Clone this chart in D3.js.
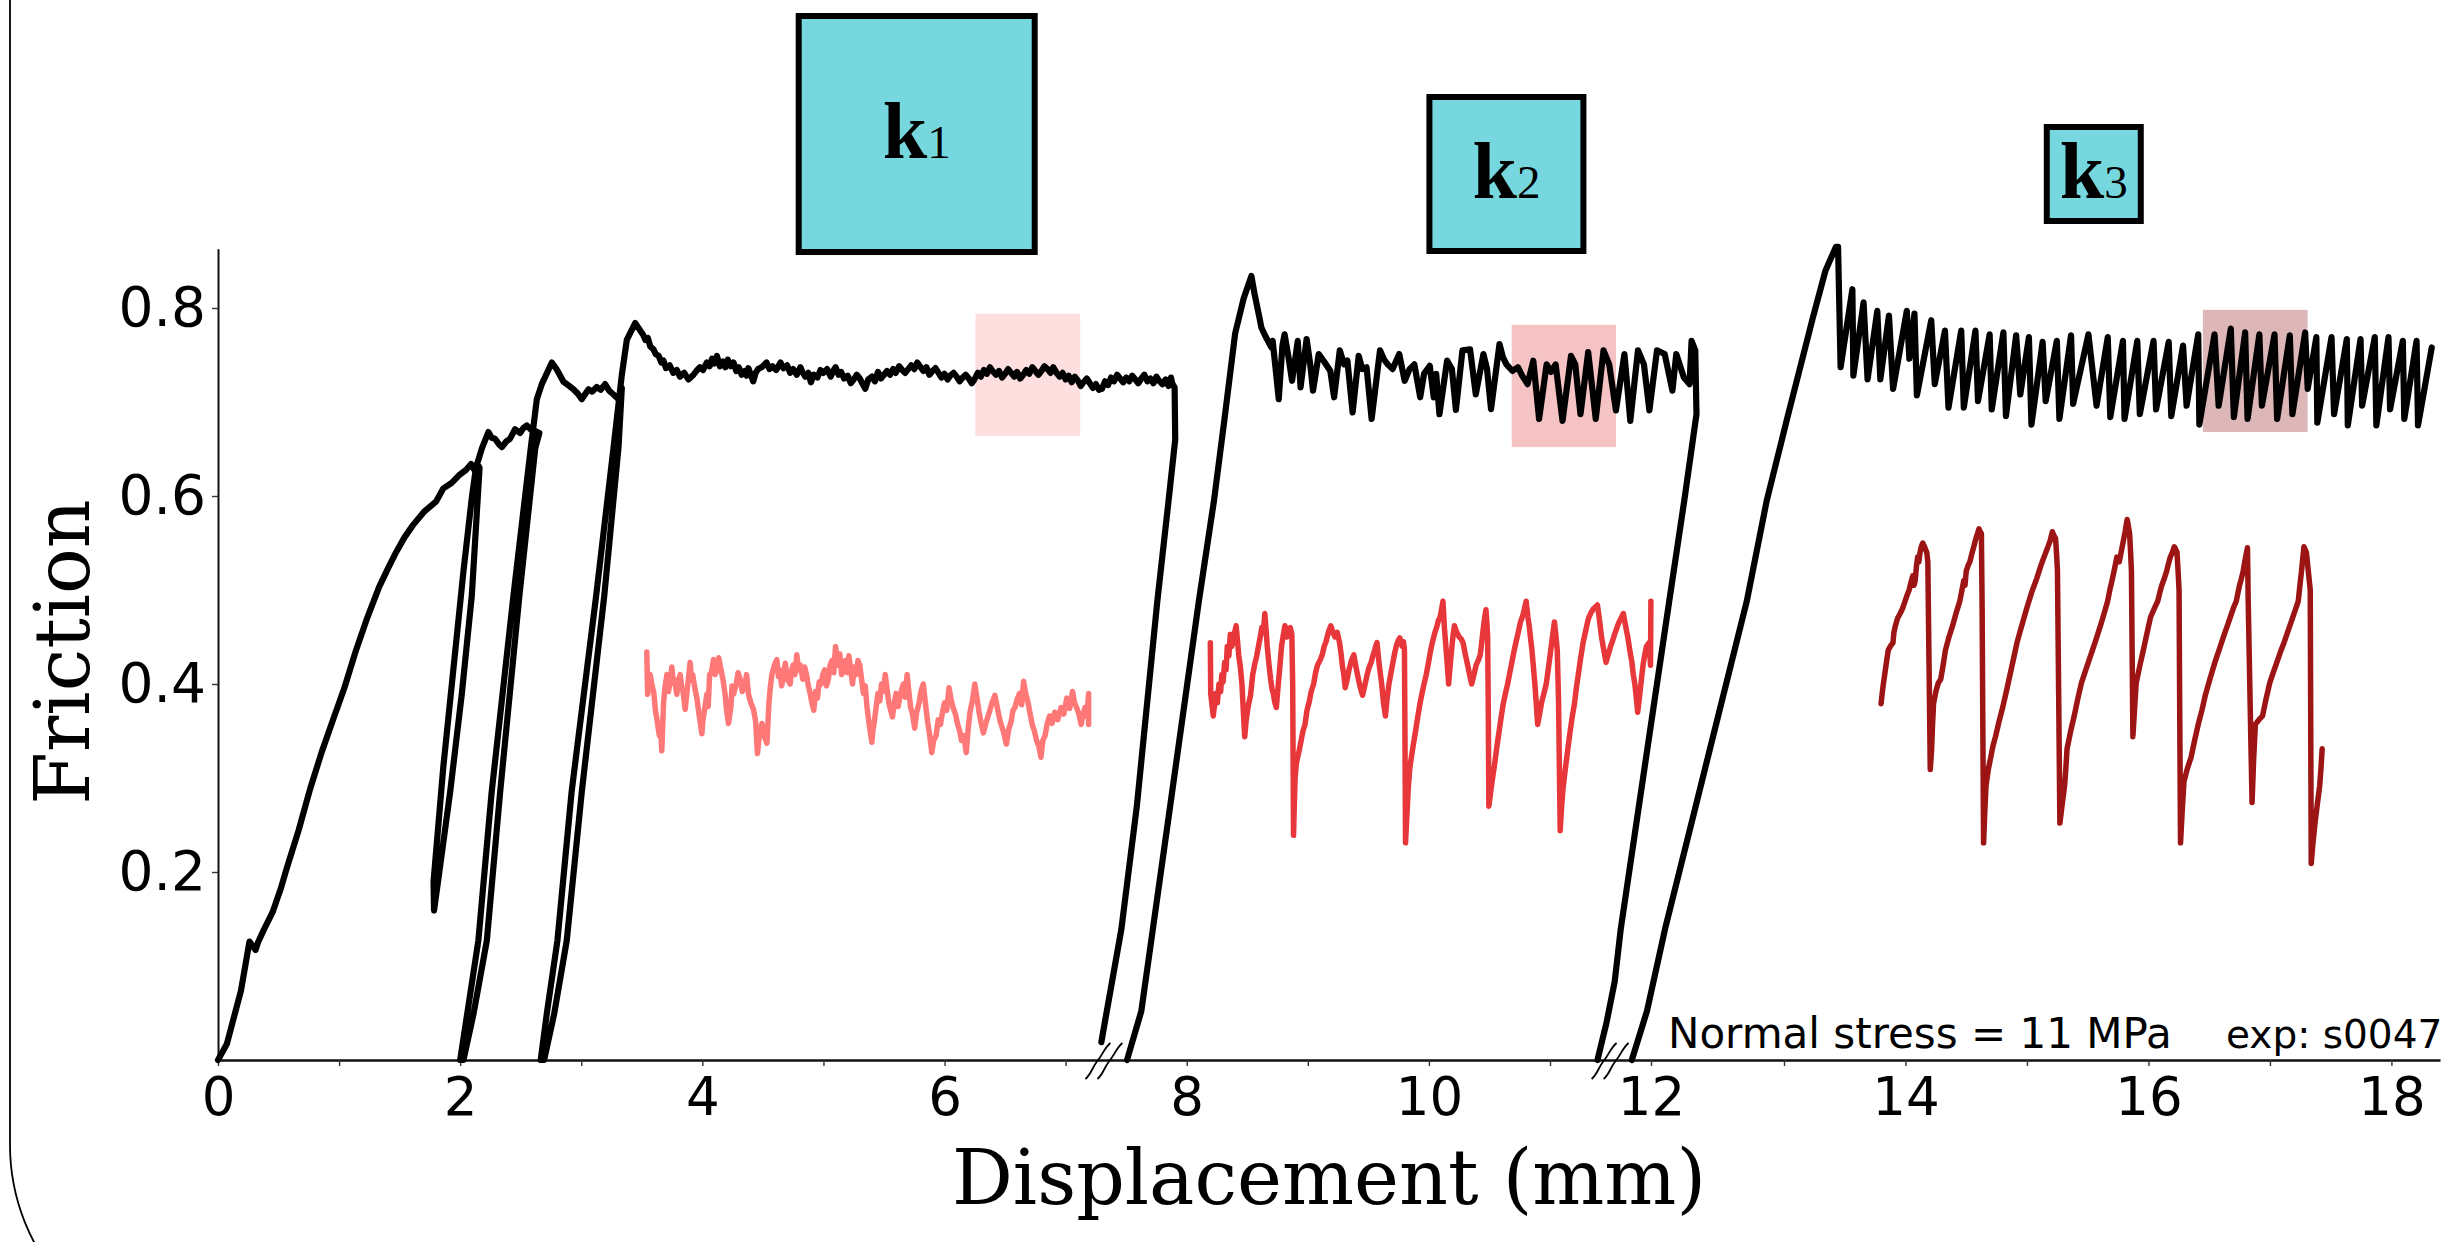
<!DOCTYPE html>
<html>
<head>
<meta charset="utf-8">
<script src="https://cdn.jsdelivr.net/npm/d3@7"></script>
<style>
  html, body { margin: 0; padding: 0; background: #fff; overflow: hidden; }
  svg { display: block; }
</style>
</head>
<body>
<svg id="chart" width="2447" height="1242"></svg>
<script>
// ---------------- data: displacement (mm), friction ----------------

// first run: initial loading plus two unload/reload cycles, steady sliding to ~7.9 mm
const stageOne = [
  [0,0],[0.073,0.017],[0.19,0.074],[0.26,0.126],[0.31,0.117],[0.33,0.125],[0.38,0.139],[0.45,0.157],
  [0.52,0.183],[0.57,0.205],[0.665,0.244],[0.76,0.288],[0.855,0.327],[0.95,0.362],[1.044,0.396],
  [1.14,0.436],[1.234,0.471],[1.33,0.503],[1.40,0.522],[1.47,0.540],[1.54,0.556],[1.61,0.569],
  [1.70,0.583],[1.80,0.594],[1.86,0.608],[1.93,0.614],[1.99,0.622],[2.05,0.628],[2.09,0.634],
  [2.12,0.627],[2.14,0.635],
  [2.16,0.630],[2.096,0.494],[2.013,0.389],[1.917,0.285],[1.834,0.206],[1.784,0.159],
  [1.78,0.19],[1.86,0.311],[1.944,0.416],[2.027,0.52],[2.096,0.598],[2.13,0.63],
  [2.18,0.651],[2.233,0.668],[2.26,0.662],[2.288,0.661],[2.32,0.655],[2.344,0.652],[2.38,0.658],
  [2.412,0.661],[2.453,0.671],[2.495,0.667],[2.52,0.672],[2.55,0.675],[2.59,0.670],[2.62,0.669],[2.654,0.667],
  [2.62,0.651],[2.489,0.494],[2.33,0.285],[2.22,0.127],[2.11,0.049],[2.027,0],
  [2.0,0],[2.15,0.127],[2.26,0.285],[2.44,0.494],[2.583,0.651],[2.633,0.703],[2.674,0.719],[2.757,0.742],
  [2.798,0.7345],[2.853,0.7215],[2.89,0.718],[2.935,0.7136],[2.97,0.709],[3.004,0.703],[3.03,0.708],
  [3.06,0.7136],[3.09,0.711],[3.128,0.716],[3.16,0.713],[3.197,0.719],[3.23,0.712],[3.266,0.708],
  [3.307,0.703],[3.335,0.715],
  [3.307,0.651],[3.19,0.494],[3.004,0.285],[2.88,0.127],[2.776,0.049],[2.693,0],
  [2.665,0],[2.715,0.049],[2.803,0.127],[2.92,0.285],[3.123,0.494],[3.266,0.651],[3.335,0.729],
  [3.376,0.766],[3.445,0.784],
  [3.513,0.771],[3.53,0.766],[3.55,0.768],[3.57,0.759],[3.596,0.756],[3.615,0.751],[3.64,0.749],
  [3.66,0.742],[3.679,0.744],[3.70,0.736],[3.73,0.739],[3.76,0.731],[3.789,0.734],[3.815,0.727],
  [3.85,0.731],[3.885,0.724],[3.927,0.729],[3.95,0.733],[3.98,0.737],[4.005,0.734],[4.037,0.742],
  [4.06,0.738],[4.08,0.746],[4.10,0.741],[4.12,0.749],[4.145,0.738],[4.17,0.743],[4.19,0.737],
  [4.21,0.745],[4.235,0.738],[4.257,0.742],[4.28,0.733],[4.30,0.737],[4.325,0.729],[4.35,0.733],
  [4.365,0.728],[4.38,0.736],[4.40,0.729],[4.42,0.722],[4.44,0.731],[4.46,0.735],[4.49,0.737],
  [4.53,0.742],[4.555,0.735],[4.58,0.738],[4.61,0.734],[4.645,0.742],[4.67,0.736],[4.70,0.739],
  [4.725,0.731],[4.75,0.735],[4.78,0.729],[4.81,0.737],[4.83,0.731],[4.85,0.727],[4.875,0.731],
  [4.896,0.721],[4.92,0.729],[4.95,0.726],[4.975,0.734],[5.0,0.731],[5.03,0.735],[5.06,0.727],
  [5.08,0.733],[5.10,0.737],[5.125,0.729],[5.146,0.732],[5.17,0.725],[5.2,0.728],[5.225,0.72],
  [5.25,0.724],[5.275,0.729],[5.3,0.725],[5.32,0.72],[5.345,0.714],[5.37,0.724],[5.40,0.727],
  [5.425,0.722],[5.45,0.732],[5.475,0.725],[5.50,0.729],[5.525,0.733],[5.55,0.729],[5.575,0.735],
  [5.597,0.731],[5.625,0.738],[5.65,0.734],[5.675,0.731],[5.70,0.735],[5.725,0.739],[5.75,0.735],
  [5.775,0.742],[5.797,0.738],[5.825,0.733],[5.85,0.737],[5.875,0.729],[5.90,0.733],[5.925,0.736],
  [5.95,0.731],[5.975,0.726],[6.0,0.73],[6.025,0.724],[6.047,0.728],[6.075,0.731],[6.10,0.727],
  [6.125,0.722],[6.15,0.726],[6.175,0.729],[6.20,0.725],[6.225,0.72],[6.247,0.724],[6.275,0.731],
  [6.30,0.727],[6.325,0.734],[6.35,0.73],[6.375,0.737],[6.397,0.733],[6.425,0.729],[6.45,0.733],
  [6.475,0.726],[6.50,0.73],[6.525,0.735],[6.55,0.731],[6.575,0.727],[6.598,0.732],[6.625,0.725],
  [6.65,0.729],[6.675,0.734],[6.70,0.73],[6.725,0.737],[6.75,0.733],[6.775,0.729],[6.80,0.733],
  [6.825,0.738],[6.85,0.735],[6.875,0.731],[6.898,0.737],[6.925,0.731],[6.95,0.727],[6.975,0.731],
  [7.0,0.724],[7.025,0.728],[7.05,0.721],[7.075,0.727],[7.10,0.723],[7.125,0.717],[7.148,0.721],
  [7.175,0.725],[7.20,0.72],[7.225,0.715],[7.25,0.719],[7.275,0.713],[7.30,0.714],[7.325,0.722],
  [7.35,0.718],[7.375,0.726],[7.40,0.722],[7.425,0.729],[7.45,0.725],[7.475,0.721],[7.50,0.726],
  [7.525,0.722],[7.55,0.728],[7.575,0.724],[7.60,0.72],[7.625,0.725],[7.65,0.729],[7.675,0.722],
  [7.70,0.725],[7.725,0.72],[7.75,0.727],[7.775,0.722],[7.80,0.719],[7.825,0.724],[7.85,0.717],
  [7.87,0.726],[7.88,0.72],[7.90,0.7155],
  [7.905,0.66],[7.85,0.595],[7.757,0.488],[7.588,0.27],[7.46,0.139],[7.34,0.052],[7.295,0.019]
];

// second run: reload to a peak, irregular slip events, unload
const stageTwo = [
  [7.507,0],[7.625,0.052],[7.72,0.139],[7.863,0.27],[8.1,0.488],[8.225,0.595],[8.31,0.68],
  [8.40,0.773],[8.47,0.81],[8.534,0.834],[8.56,0.815],[8.60,0.79],[8.617,0.779],[8.65,0.77],
  [8.70,0.758],[8.71,0.765],[8.76,0.703],[8.79,0.76],[8.808,0.772],[8.84,0.748],[8.87,0.7226],
  [8.917,0.765],[8.94,0.7155],[8.99,0.767],[9.02,0.74],[9.043,0.712],[9.09,0.751],[9.14,0.742],
  [9.186,0.733],[9.217,0.705],[9.264,0.755],[9.30,0.74],[9.327,0.744],[9.37,0.689],[9.42,0.749],
  [9.45,0.735],[9.485,0.737],[9.527,0.682],[9.596,0.755],[9.63,0.745],[9.66,0.740],[9.70,0.735],
  [9.755,0.751],[9.80,0.7226],[9.84,0.735],[9.88,0.740],[9.928,0.705],[9.96,0.73],[10.007,0.7386],
  [10.04,0.705],[10.06,0.73],[10.087,0.687],[10.15,0.744],[10.19,0.735],[10.223,0.6915],
  [10.277,0.755],[10.34,0.756],[10.387,0.708],[10.45,0.751],[10.48,0.735],[10.513,0.6925],
  [10.583,0.7617],[10.61,0.748],[10.64,0.740],[10.69,0.733],[10.735,0.737],[10.77,0.728],
  [10.815,0.719],[10.862,0.744],[10.91,0.682],[10.972,0.740],[11.01,0.732],[11.056,0.740],
  [11.124,0.68],[11.208,0.749],[11.25,0.74],[11.302,0.687],[11.378,0.753],[11.453,0.682],
  [11.53,0.755],[11.586,0.740],[11.653,0.691],[11.737,0.751],[11.795,0.68],[11.871,0.755],
  [11.93,0.74],[11.984,0.691],[12.045,0.755],[12.103,0.751],[12.161,0.712],[12.19,0.751],
  [12.247,0.726],[12.29,0.719],[12.305,0.765],[12.333,0.755],[12.342,0.687],
  [12.25,0.595],[12.137,0.488],[11.88,0.27],[11.70,0.139],[11.64,0.083],[11.56,0.04],[11.47,0]
];

// third run: reload to the highest peak, then regular stick-slip
const stageThree = [
  [11.81,0],[11.96,0.052],[12.105,0.139],[12.336,0.27],[12.72,0.488],[12.87,0.595],[13.027,0.683],
  [13.238,0.79],[13.342,0.84],[13.427,0.865],[13.445,0.865],
  [13.466,0.737],[13.563,0.820],[13.571,0.728],[13.655,0.806],[13.688,0.724],[13.768,0.797],
  [13.793,0.724],[13.864,0.792],[13.898,0.714],[14.011,0.797],[14.032,0.746],[14.074,0.794],
  [14.094,0.707],[14.212,0.787],[14.241,0.719],[14.325,0.776],[14.354,0.694],[14.459,0.776],
  [14.480,0.694],[14.576,0.776],[14.597,0.701],[14.693,0.772],[14.710,0.692],[14.806,0.774],
  [14.827,0.685],[14.911,0.771],[14.945,0.708],[15.016,0.769],[15.037,0.676],[15.129,0.764],
  [15.154,0.701],[15.246,0.765],[15.267,0.682],[15.363,0.771],[15.380,0.698],[15.506,0.772],
  [15.573,0.696],[15.665,0.769],[15.686,0.684],[15.790,0.765],[15.803,0.682],[15.908,0.765],
  [15.929,0.687],[16.042,0.765],[16.063,0.692],[16.167,0.764],[16.188,0.685],[16.285,0.760],
  [16.314,0.696],[16.410,0.772],[16.419,0.676],[16.544,0.772],[16.578,0.696],[16.678,0.778],
  [16.703,0.684],[16.796,0.774],[16.816,0.682],[16.913,0.772],[16.934,0.696],[17.038,0.772],
  [17.059,0.682],[17.164,0.771],[17.185,0.687],[17.290,0.774],[17.311,0.714],[17.382,0.769],
  [17.390,0.678],[17.507,0.769],[17.528,0.687],[17.633,0.767],[17.641,0.675],[17.746,0.767],
  [17.759,0.696],[17.863,0.769],[17.876,0.675],[17.976,0.769],[17.989,0.692],[18.094,0.765],
  [18.106,0.682],[18.207,0.765],[18.219,0.675],[18.332,0.758]
];

// magnified windows (shifted down), one per run
const detailOne = [
  [3.541,0.434],[3.548,0.389],[3.569,0.41],[3.585,0.398],[3.60,0.39],[3.612,0.372],[3.624,0.363],
  [3.645,0.345],[3.655,0.352],[3.665,0.329],[3.679,0.379],[3.69,0.395],[3.707,0.41],[3.72,0.392],
  [3.73,0.40],[3.748,0.418],[3.76,0.401],[3.77,0.405],[3.789,0.389],[3.80,0.402],[3.817,0.41],
  [3.83,0.396],[3.84,0.392],[3.858,0.373],[3.87,0.388],[3.88,0.40],[3.899,0.423],[3.91,0.404],
  [3.92,0.41],[3.94,0.394],[3.955,0.385],[3.97,0.37],[3.996,0.347],[4.005,0.362],[4.015,0.37],
  [4.037,0.389],[4.048,0.376],[4.06,0.41],[4.075,0.412],[4.092,0.426],[4.105,0.41],[4.12,0.415],
  [4.135,0.428],[4.147,0.420],[4.17,0.405],[4.188,0.389],[4.2,0.372],[4.216,0.358],[4.235,0.375],
  [4.245,0.398],[4.257,0.389],[4.28,0.40],[4.295,0.412],[4.312,0.405],[4.33,0.392],[4.35,0.398],
  [4.365,0.41],[4.381,0.389],[4.40,0.38],[4.422,0.373],[4.44,0.36],[4.455,0.326],[4.47,0.345],
  [4.492,0.358],[4.51,0.345],[4.533,0.337],[4.55,0.38],[4.56,0.395],[4.574,0.41],[4.595,0.42],
  [4.615,0.426],[4.628,0.408],[4.64,0.415],[4.655,0.398],[4.67,0.41],[4.685,0.422],[4.70,0.405],
  [4.725,0.40],[4.737,0.415],[4.75,0.42],[4.765,0.41],[4.78,0.431],[4.795,0.415],[4.808,0.420],
  [4.83,0.405],[4.845,0.418],[4.86,0.41],[4.875,0.398],[4.89,0.39],[4.905,0.38],[4.92,0.372],
  [4.935,0.392],[4.95,0.385],[4.965,0.402],[4.98,0.40],[4.995,0.41],[5.01,0.415],[5.025,0.398],
  [5.04,0.405],[5.055,0.42],[5.07,0.425],[5.085,0.412],[5.10,0.44],[5.11,0.428],[5.12,0.42],
  [5.135,0.432],[5.15,0.41],[5.165,0.418],[5.18,0.425],[5.195,0.412],[5.21,0.43],[5.225,0.415],
  [5.24,0.40],[5.255,0.418],[5.27,0.41],[5.285,0.425],[5.30,0.42],[5.315,0.405],[5.33,0.39],
  [5.345,0.398],[5.36,0.375],[5.38,0.355],[5.40,0.338],[5.41,0.352],[5.42,0.36],[5.435,0.375],
  [5.45,0.39],[5.465,0.382],[5.48,0.40],[5.495,0.392],[5.51,0.41],[5.525,0.395],[5.54,0.38],
  [5.555,0.372],[5.57,0.365],[5.585,0.38],[5.60,0.39],[5.617,0.376],[5.634,0.388],[5.648,0.395],
  [5.66,0.40],[5.675,0.386],[5.691,0.41],[5.705,0.392],[5.72,0.375],[5.735,0.368],[5.753,0.353],
  [5.77,0.37],[5.79,0.38],[5.805,0.392],[5.824,0.40],[5.84,0.382],[5.86,0.36],[5.878,0.345],
  [5.895,0.327],[5.91,0.34],[5.93,0.345],[5.948,0.362],[5.966,0.357],[5.983,0.37],[6.0,0.38],
  [6.018,0.372],[6.037,0.396],[6.052,0.385],[6.07,0.375],[6.09,0.368],[6.108,0.357],[6.125,0.35],
  [6.14,0.34],[6.16,0.345],[6.179,0.327],[6.195,0.352],[6.21,0.37],[6.23,0.382],[6.25,0.40],
  [6.268,0.385],[6.285,0.37],[6.3,0.36],[6.321,0.348],[6.345,0.36],[6.37,0.37],[6.392,0.38],
  [6.416,0.388],[6.44,0.372],[6.46,0.36],[6.485,0.35],[6.511,0.336],[6.53,0.352],[6.55,0.36],
  [6.565,0.372],[6.582,0.375],[6.6,0.384],[6.62,0.39],[6.637,0.378],[6.653,0.403],[6.67,0.39],
  [6.69,0.38],[6.707,0.368],[6.724,0.357],[6.742,0.35],[6.76,0.34],[6.778,0.334],[6.796,0.322],
  [6.812,0.34],[6.83,0.345],[6.848,0.358],[6.867,0.366],[6.888,0.358],[6.91,0.37],[6.935,0.362],
  [6.962,0.375],[6.985,0.368],[7.01,0.385],[7.033,0.374],[7.057,0.392],[7.073,0.38],[7.09,0.375],
  [7.11,0.368],[7.128,0.357],[7.145,0.368],[7.16,0.375],[7.175,0.366],[7.19,0.39],[7.19,0.357]
];

const detailTwo = [
  [8.195,0.444],[8.198,0.39],[8.219,0.366],[8.24,0.39],[8.253,0.38],[8.266,0.40],[8.28,0.392],
  [8.29,0.41],[8.3,0.402],[8.313,0.423],[8.325,0.415],[8.335,0.44],[8.348,0.43],[8.36,0.453],
  [8.372,0.44],[8.385,0.445],[8.396,0.455],[8.408,0.462],[8.42,0.445],[8.43,0.43],[8.443,0.418],
  [8.456,0.40],[8.468,0.37],[8.479,0.344],[8.49,0.36],[8.50,0.37],[8.513,0.38],[8.527,0.388],
  [8.545,0.41],[8.56,0.42],[8.578,0.43],[8.598,0.444],[8.61,0.452],[8.62,0.46],[8.633,0.455],
  [8.645,0.475],[8.655,0.458],[8.665,0.44],[8.68,0.42],[8.693,0.405],[8.704,0.395],[8.715,0.39],
  [8.728,0.38],[8.74,0.375],[8.755,0.398],[8.77,0.42],[8.783,0.44],[8.795,0.45],[8.811,0.462],
  [8.826,0.45],[8.84,0.455],[8.855,0.46],[8.868,0.453],[8.875,0.40],[8.882,0.239],[8.888,0.27],
  [8.895,0.30],[8.905,0.315],[8.916,0.322],[8.93,0.33],[8.945,0.34],[8.96,0.35],[8.977,0.357],
  [8.993,0.372],[9.01,0.38],[9.028,0.392],[9.048,0.40],[9.064,0.412],[9.08,0.42],[9.1,0.425],
  [9.119,0.431],[9.135,0.44],[9.15,0.445],[9.17,0.455],[9.19,0.462],[9.207,0.455],[9.225,0.45],
  [9.243,0.455],[9.262,0.444],[9.275,0.432],[9.285,0.42],[9.297,0.41],[9.309,0.396],[9.325,0.405],
  [9.34,0.415],[9.36,0.425],[9.38,0.431],[9.395,0.42],[9.41,0.41],[9.43,0.398],[9.452,0.388],
  [9.47,0.398],[9.49,0.41],[9.507,0.418],[9.523,0.423],[9.537,0.43],[9.55,0.435],[9.56,0.44],
  [9.571,0.444],[9.59,0.42],[9.61,0.40],[9.625,0.38],[9.641,0.366],[9.655,0.385],[9.67,0.40],
  [9.687,0.412],[9.703,0.423],[9.716,0.432],[9.73,0.44],[9.745,0.446],[9.76,0.449],[9.77,0.443],
  [9.78,0.44],[9.79,0.445],[9.798,0.436],[9.802,0.35],[9.807,0.231],[9.818,0.26],[9.83,0.29],
  [9.842,0.31],[9.855,0.322],[9.872,0.336],[9.89,0.35],[9.908,0.365],[9.926,0.379],[9.943,0.39],
  [9.96,0.40],[9.978,0.41],[9.997,0.423],[10.013,0.435],[10.03,0.445],[10.05,0.455],[10.068,0.462],
  [10.079,0.468],[10.09,0.47],[10.103,0.478],[10.116,0.488],[10.128,0.46],[10.14,0.44],[10.152,0.42],
  [10.163,0.40],[10.177,0.422],[10.19,0.44],[10.2,0.452],[10.211,0.462],[10.23,0.455],[10.25,0.45],
  [10.266,0.448],[10.282,0.444],[10.3,0.432],[10.32,0.42],[10.336,0.41],[10.353,0.40],[10.372,0.41],
  [10.39,0.42],[10.407,0.425],[10.424,0.431],[10.437,0.445],[10.45,0.46],[10.46,0.47],[10.471,0.479],
  [10.479,0.465],[10.485,0.45],[10.49,0.38],[10.495,0.27],[10.505,0.28],[10.515,0.29],[10.528,0.302],
  [10.542,0.314],[10.56,0.332],[10.58,0.35],[10.597,0.365],[10.614,0.379],[10.632,0.39],[10.65,0.40],
  [10.668,0.412],[10.685,0.423],[10.703,0.435],[10.72,0.445],[10.738,0.455],[10.756,0.466],
  [10.768,0.47],[10.78,0.475],[10.792,0.482],[10.803,0.488],[10.817,0.472],[10.83,0.46],[10.84,0.448],
  [10.851,0.436],[10.863,0.418],[10.875,0.40],[10.887,0.378],[10.898,0.357],[10.914,0.368],
  [10.93,0.38],[10.95,0.39],[10.969,0.40],[10.985,0.415],[11.0,0.43],[11.022,0.448],[11.044,0.466],
  [11.058,0.452],[11.072,0.436],[11.078,0.41],[11.085,0.38],[11.093,0.31],[11.101,0.244],
  [11.115,0.27],[11.13,0.29],[11.143,0.302],[11.157,0.314],[11.178,0.332],[11.2,0.35],[11.22,0.365],
  [11.242,0.379],[11.26,0.395],[11.28,0.41],[11.304,0.428],[11.328,0.444],[11.344,0.452],
  [11.36,0.46],[11.372,0.466],[11.385,0.471],[11.407,0.476],[11.43,0.48],[11.45,0.482],[11.47,0.484],
  [11.49,0.468],[11.51,0.45],[11.533,0.436],[11.555,0.423],[11.578,0.432],[11.6,0.44],[11.62,0.446],
  [11.64,0.453],[11.66,0.459],[11.68,0.465],[11.703,0.47],[11.726,0.475],[11.748,0.462],[11.77,0.45],
  [11.79,0.436],[11.811,0.423],[11.825,0.41],[11.84,0.40],[11.855,0.385],[11.868,0.37],[11.885,0.385],
  [11.9,0.40],[11.912,0.412],[11.925,0.423],[11.94,0.432],[11.955,0.44],[11.968,0.442],[11.982,0.444],
  [11.995,0.42],[11.999,0.488]
];

const detailThree = [
  [13.799,0.379],[13.81,0.392],[13.819,0.401],[13.84,0.42],[13.858,0.436],[13.875,0.44],[13.897,0.444],
  [13.905,0.455],[13.917,0.462],[13.935,0.47],[13.956,0.475],[13.975,0.48],[13.996,0.488],
  [14.015,0.495],[14.03,0.50],[14.045,0.508],[14.06,0.515],[14.07,0.505],[14.08,0.51],[14.09,0.525],
  [14.10,0.535],[14.11,0.53],[14.12,0.54],[14.13,0.546],[14.142,0.55],[14.16,0.545],[14.175,0.54],
  [14.184,0.53],[14.194,0.42],[14.204,0.309],[14.215,0.33],[14.222,0.355],[14.231,0.379],
  [14.25,0.392],[14.27,0.401],[14.29,0.405],[14.31,0.42],[14.329,0.436],[14.358,0.45],[14.388,0.462],
  [14.418,0.476],[14.447,0.488],[14.465,0.5],[14.48,0.51],[14.49,0.505],[14.50,0.52],[14.515,0.526],
  [14.53,0.53],[14.545,0.538],[14.56,0.545],[14.57,0.55],[14.58,0.555],[14.593,0.56],[14.605,0.565],
  [14.615,0.562],[14.625,0.56],[14.628,0.52],[14.631,0.48],[14.637,0.35],[14.643,0.231],
  [14.653,0.265],[14.663,0.292],[14.683,0.31],[14.702,0.322],[14.72,0.334],[14.741,0.344],
  [14.77,0.36],[14.8,0.375],[14.83,0.392],[14.859,0.409],[14.888,0.426],[14.918,0.444],[14.948,0.458],
  [14.977,0.471],[14.997,0.48],[15.016,0.488],[15.04,0.498],[15.06,0.505],[15.08,0.512],[15.10,0.52],
  [15.12,0.528],[15.14,0.535],[15.155,0.54],[15.17,0.545],[15.19,0.552],[15.209,0.562],[15.222,0.558],
  [15.235,0.555],[15.243,0.54],[15.251,0.52],[15.261,0.39],[15.271,0.252],[15.29,0.272],[15.31,0.292],
  [15.32,0.31],[15.33,0.331],[15.36,0.35],[15.389,0.366],[15.418,0.384],[15.448,0.401],[15.487,0.416],
  [15.526,0.431],[15.565,0.446],[15.605,0.462],[15.635,0.475],[15.664,0.488],[15.682,0.5],[15.70,0.51],
  [15.72,0.522],[15.74,0.535],[15.76,0.53],[15.775,0.54],[15.79,0.55],[15.808,0.562],[15.825,0.575],
  [15.835,0.568],[15.845,0.56],[15.853,0.54],[15.86,0.52],[15.866,0.43],[15.872,0.344],[15.885,0.372],
  [15.899,0.401],[15.93,0.42],[15.958,0.436],[15.988,0.454],[16.017,0.471],[16.047,0.48],[16.076,0.488],
  [16.093,0.497],[16.11,0.505],[16.13,0.512],[16.15,0.52],[16.165,0.528],[16.18,0.535],[16.197,0.54],
  [16.213,0.546],[16.225,0.543],[16.235,0.54],[16.244,0.52],[16.252,0.50],[16.258,0.36],[16.264,0.231],
  [16.278,0.265],[16.292,0.296],[16.32,0.31],[16.351,0.322],[16.38,0.34],[16.41,0.357],[16.44,0.372],
  [16.468,0.388],[16.508,0.406],[16.547,0.423],[16.586,0.438],[16.625,0.453],[16.655,0.464],
  [16.684,0.475],[16.703,0.482],[16.723,0.488],[16.737,0.497],[16.75,0.505],[16.765,0.512],
  [16.78,0.52],[16.79,0.528],[16.80,0.535],[16.808,0.54],[16.815,0.545],[16.818,0.52],[16.821,0.49],
  [16.837,0.38],[16.853,0.274],[16.866,0.32],[16.88,0.357],[16.91,0.362],[16.939,0.366],[16.968,0.384],
  [16.998,0.401],[17.027,0.412],[17.057,0.423],[17.086,0.434],[17.116,0.444],[17.145,0.455],
  [17.175,0.466],[17.204,0.477],[17.233,0.488],[17.247,0.505],[17.26,0.52],[17.27,0.533],[17.28,0.546],
  [17.29,0.543],[17.30,0.54],[17.316,0.52],[17.332,0.5],[17.336,0.35],[17.34,0.209],[17.355,0.232],
  [17.371,0.252],[17.39,0.272],[17.41,0.292],[17.42,0.31],[17.43,0.331]
];

// extent of each magnified window: [x0, x1, y0, y1]
const windowExtents = [
  [6.255, 7.12, 0.664, 0.794],
  [10.684, 11.654, 0.652, 0.782],
  [16.448, 17.31, 0.668, 0.798]
];

// machine stiffness labels (spring sizes decrease k1 > k2 > k3)
const springLabels = ["1", "2", "3"];
const springCentres = [5.77, 10.64, 15.55];

// axis ticks
const xTickValues = d3.range(0, 19);
const yTickValues = [0.2, 0.4, 0.6, 0.8];
const axisBreaks = [7.32, 11.6];

const seriesColours = ["#ff7878", "#e8373a", "#9c1414"];
const windowFills = ["#fddfdf", "#f5c3c3", "#ddb7b7"];

// ---------------- drawing ----------------
const svg = d3.select("#chart");

// displacement axis is compressed between 11 and 13 mm around the second break
const x = d3.scaleLinear()
  .domain([0, 11, 12, 13, 18.4])
  .range([218, 1550, 1651, 1784, 2440]);
const y = d3.scaleLinear().domain([0, 0.6]).range([1060, 496]);
const yAxisScale = y.copy().domain([0, 0.863]).range([y(0), y(0.863)]);

// rounded outer frame
svg.append("path")
  .attr("d", "M10,-20 L10,1145 A208,208 0 0 0 218,1353 L2600,1353")
  .attr("fill", "none").attr("stroke", "#000").attr("stroke-width", 1.8);

// highlighted windows
svg.append("g").selectAll("rect").data(windowExtents).join("rect")
  .attr("x", d => x(d[0]))
  .attr("y", d => y(d[3]))
  .attr("width", d => x(d[1]) - x(d[0]))
  .attr("height", d => y(d[2]) - y(d[3]))
  .attr("fill", (d, i) => windowFills[i]);

// axes
const gx = svg.append("g")
  .attr("transform", `translate(0,${y(0)})`)
  .call(d3.axisBottom(x)
    .tickValues(xTickValues)
    .tickFormat(d => d % 2 === 0 ? d3.format("d")(d) : "")
    .tickSize(6).tickSizeOuter(0).tickPadding(11));
gx.select(".domain").attr("stroke-width", 2.6).attr("stroke", "#111");
gx.selectAll(".tick line").attr("stroke-width", 1.4).attr("stroke", "#333");
gx.selectAll(".tick text")
  .attr("font-family", "'DejaVu Sans', sans-serif").attr("font-size", 53).attr("fill", "#000");

const gy = svg.append("g")
  .attr("transform", `translate(${x(0)},0)`)
  .call(d3.axisLeft(yAxisScale)
    .tickValues(yTickValues)
    .tickFormat(d3.format(".1f"))
    .tickSize(6).tickSizeOuter(0).tickPadding(6));
gy.select(".domain").attr("stroke-width", 2).attr("stroke", "#111");
gy.selectAll(".tick line").attr("stroke-width", 1.4).attr("stroke", "#333");
gy.selectAll(".tick text")
  .attr("font-family", "'DejaVu Sans', sans-serif").attr("font-size", 55).attr("fill", "#000");

const line = d3.line().x(d => x(d[0])).y(d => y(d[1]));

// magnified traces
[detailOne, detailTwo, detailThree].forEach((trace, i) => {
  svg.append("path")
    .datum(trace)
    .attr("d", line)
    .attr("fill", "none")
    .attr("stroke", seriesColours[i])
    .attr("stroke-width", 5.5)
    .attr("stroke-linejoin", "round")
    .attr("stroke-linecap", "round");
});

// friction record
[stageOne, stageTwo, stageThree].forEach(run => {
  svg.append("path")
    .datum(run)
    .attr("d", line)
    .attr("fill", "none")
    .attr("stroke", "#000")
    .attr("stroke-width", 6.2)
    .attr("stroke-linejoin", "round")
    .attr("stroke-linecap", "round");
});

// axis break marks
const breakMark = "M-19,18 C-13,13 -12,6 -7,0 S0,-13 6,-18";
axisBreaks.forEach(b => {
  const g = svg.append("g").attr("transform", `translate(${x(b)},${y(0)})`);
  [0, 12].forEach(dx => {
    g.append("path")
      .attr("d", breakMark)
      .attr("transform", `translate(${dx},1)`)
      .attr("fill", "none").attr("stroke", "#000").attr("stroke-width", 1.8);
  });
});

// stiffness boxes
const boxSizes = [242, 160, 100];
const boxCentreY = [134, 174, 174];
springLabels.forEach((s, i) => {
  const cx = x(springCentres[i]);
  const half = boxSizes[i] / 2;
  svg.append("rect")
    .attr("x", cx - half + 3).attr("y", boxCentreY[i] - half + 3)
    .attr("width", boxSizes[i] - 6).attr("height", boxSizes[i] - 6)
    .attr("fill", "#77d7df").attr("stroke", "#000").attr("stroke-width", 6);
  const t = svg.append("text")
    .attr("x", cx).attr("y", boxCentreY[i] + 24)
    .attr("text-anchor", "middle")
    .attr("font-family", "'Liberation Serif', 'Times New Roman', serif");
  t.append("tspan").attr("font-weight", "bold").attr("font-size", 80).text("k");
  t.append("tspan").attr("font-size", 47).text(s);
});

// axis titles
svg.append("text")
  .attr("x", 1329).attr("y", 1204)
  .attr("text-anchor", "middle")
  .attr("font-family", "'DejaVu Serif', serif").attr("font-size", 76)
  .text("Displacement (mm)");

svg.append("text")
  .attr("transform", "translate(89,652) rotate(-90)")
  .attr("text-anchor", "middle")
  .attr("font-family", "'DejaVu Serif', serif").attr("font-size", 76)
  .text("Friction");

// experiment notes
svg.append("text")
  .attr("x", 1668).attr("y", 1048)
  .attr("font-family", "'DejaVu Sans', sans-serif").attr("font-size", 42)
  .text("Normal stress = 11 MPa");
svg.append("text")
  .attr("x", 2226).attr("y", 1048)
  .attr("font-family", "'DejaVu Sans', sans-serif").attr("font-size", 39)
  .text("exp: s0047");
</script>
</body>
</html>
